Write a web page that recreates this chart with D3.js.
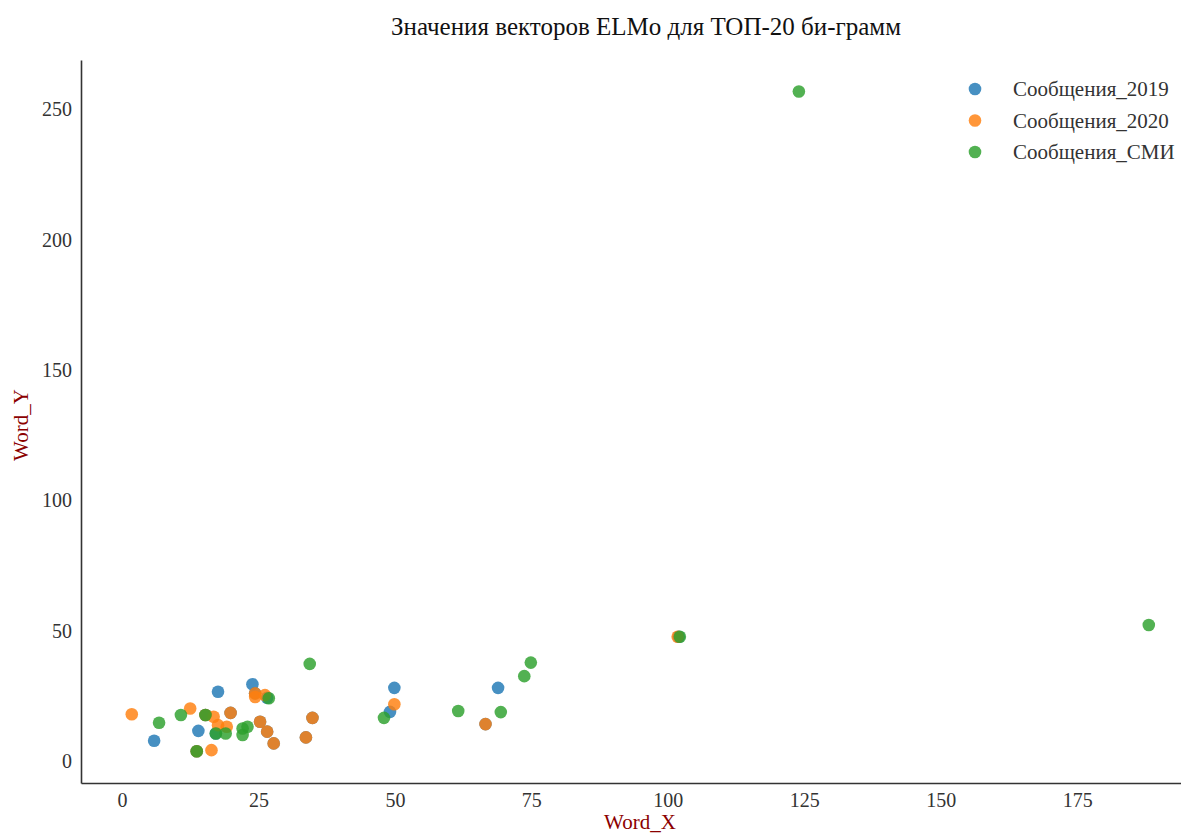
<!DOCTYPE html>
<html lang="ru">

<head>
    <meta charset="UTF-8">
    <script src="https://cdnjs.cloudflare.com/ajax/libs/d3/7.9.0/d3.min.js"></script>
    <title>ELMo scatter</title>
    <style>
        body {
            margin: 0;
            background-color: white;
            font-family: "Liberation Serif", "DejaVu Serif", serif;
        }

        svg {
            display: block;
        }
    </style>
</head>

<body>
    <div id="chart"></div>
    <script>
        // data: [Word_X, Word_Y]
        const seriesNames = ["Сообщения_2019", "Сообщения_2020", "Сообщения_СМИ"];
        const colors = ["#1f77b4", "#ff7f0e", "#2ca02c"];

        const points2019 = [
            [5.9, 7.8], [14.0, 11.6], [17.6, 26.6], [23.9, 29.5], [49.9, 28.1],
            [49.1, 18.9], [68.9, 28.1], [19.9, 18.5], [25.3, 15.1], [26.6, 11.3],
            [27.8, 6.8], [34.9, 16.6], [33.7, 9.1], [66.6, 14.2], [26.6, 24.3],
            [102.0, 47.7], [13.7, 3.8], [15.3, 17.7], [24.4, 26.0], [17.2, 10.6]
        ];
        const points2020 = [
            [1.8, 18.0], [12.5, 20.2], [16.8, 17.0], [17.6, 13.8], [19.2, 13.2],
            [16.4, 4.2], [24.4, 26.0], [24.4, 24.6], [26.2, 25.3], [49.9, 21.8],
            [101.8, 47.7], [19.9, 18.5], [25.3, 15.1], [26.6, 11.3], [27.8, 6.8],
            [34.9, 16.6], [33.7, 9.1], [66.6, 14.2], [15.3, 17.7], [13.7, 3.8]
        ];
        const pointsSMI = [
            [6.8, 14.7], [10.8, 17.7], [15.3, 17.7], [13.7, 3.8], [17.2, 10.6],
            [19.0, 10.6], [22.1, 12.5], [23.0, 13.2], [22.1, 10.0], [26.9, 24.1],
            [34.4, 37.3], [48.0, 16.6], [61.6, 19.2], [69.4, 18.8], [73.7, 32.6],
            [74.9, 37.8], [102.2, 47.7], [124.0, 256.9], [188.1, 52.2]
        ];
        const xTicks = [0, 25, 50, 75, 100, 125, 150, 175];
        const yTicks = [0, 50, 100, 150, 200, 250];

        const width = 1181;
        const height = 834;

        const svg = d3.select("#chart")
            .append("svg")
            .attr("width", width)
            .attr("height", height);

        const x = d3.scaleLinear().domain([-7.5, 194]).range([81, 1181]);
        const y = d3.scaleLinear().domain([-8.4, 269]).range([783, 60]);

        // title
        svg.append("text")
            .attr("x", 646)
            .attr("y", 35)
            .attr("text-anchor", "middle")
            .style("font-size", "25px")
            .style("fill", "#111")
            .text("Значения векторов ELMo для ТОП-20 би-грамм");

        // axes (spines only, no tick marks)
        const xAxis = d3.axisBottom(x).tickValues(xTicks).tickSize(0).tickPadding(10);
        const yAxis = d3.axisLeft(y).tickValues(yTicks).tickSize(0).tickPadding(9);

        const gx = svg.append("g")
            .attr("transform", `translate(0,${y.range()[0]})`)
            .call(xAxis);
        const gy = svg.append("g")
            .attr("transform", `translate(${x.range()[0]},0)`)
            .call(yAxis);

        [gx, gy].forEach(g => {
            g.select(".domain").attr("stroke", "#333").attr("stroke-width", 1.6);
            g.selectAll("text")
                .style("font-family", "Liberation Serif, serif")
                .style("font-size", "20px")
                .style("fill", "#333");
        });

        // axis labels
        svg.append("text")
            .attr("x", 640)
            .attr("y", 829)
            .attr("text-anchor", "middle")
            .style("font-size", "21px")
            .style("fill", "#8b0000")
            .text("Word_X");

        svg.append("text")
            .attr("transform", "translate(28,425) rotate(-90)")
            .attr("text-anchor", "middle")
            .style("font-size", "21px")
            .style("fill", "#8b0000")
            .text("Word_Y");

        // points
        const allSeries = [points2019, points2020, pointsSMI];
        allSeries.forEach((pts, i) => {
            svg.append("g")
                .selectAll("circle")
                .data(pts)
                .enter()
                .append("circle")
                .attr("cx", d => x(d[0]))
                .attr("cy", d => y(d[1]))
                .attr("r", 6.3)
                .attr("fill", colors[i])
                .attr("fill-opacity", 0.82);
        });

        // legend
        const legend = svg.append("g").attr("transform", "translate(975,89)");
        seriesNames.forEach((name, i) => {
            const row = legend.append("g").attr("transform", `translate(0,${i * 31.5})`);
            row.append("circle")
                .attr("r", 6.3)
                .attr("fill", colors[i])
                .attr("fill-opacity", 0.82);
            row.append("text")
                .attr("x", 38)
                .attr("y", 7)
                .style("font-size", "21px")
                .style("fill", "#333")
                .text(name);
        });
    </script>
</body>

</html>
